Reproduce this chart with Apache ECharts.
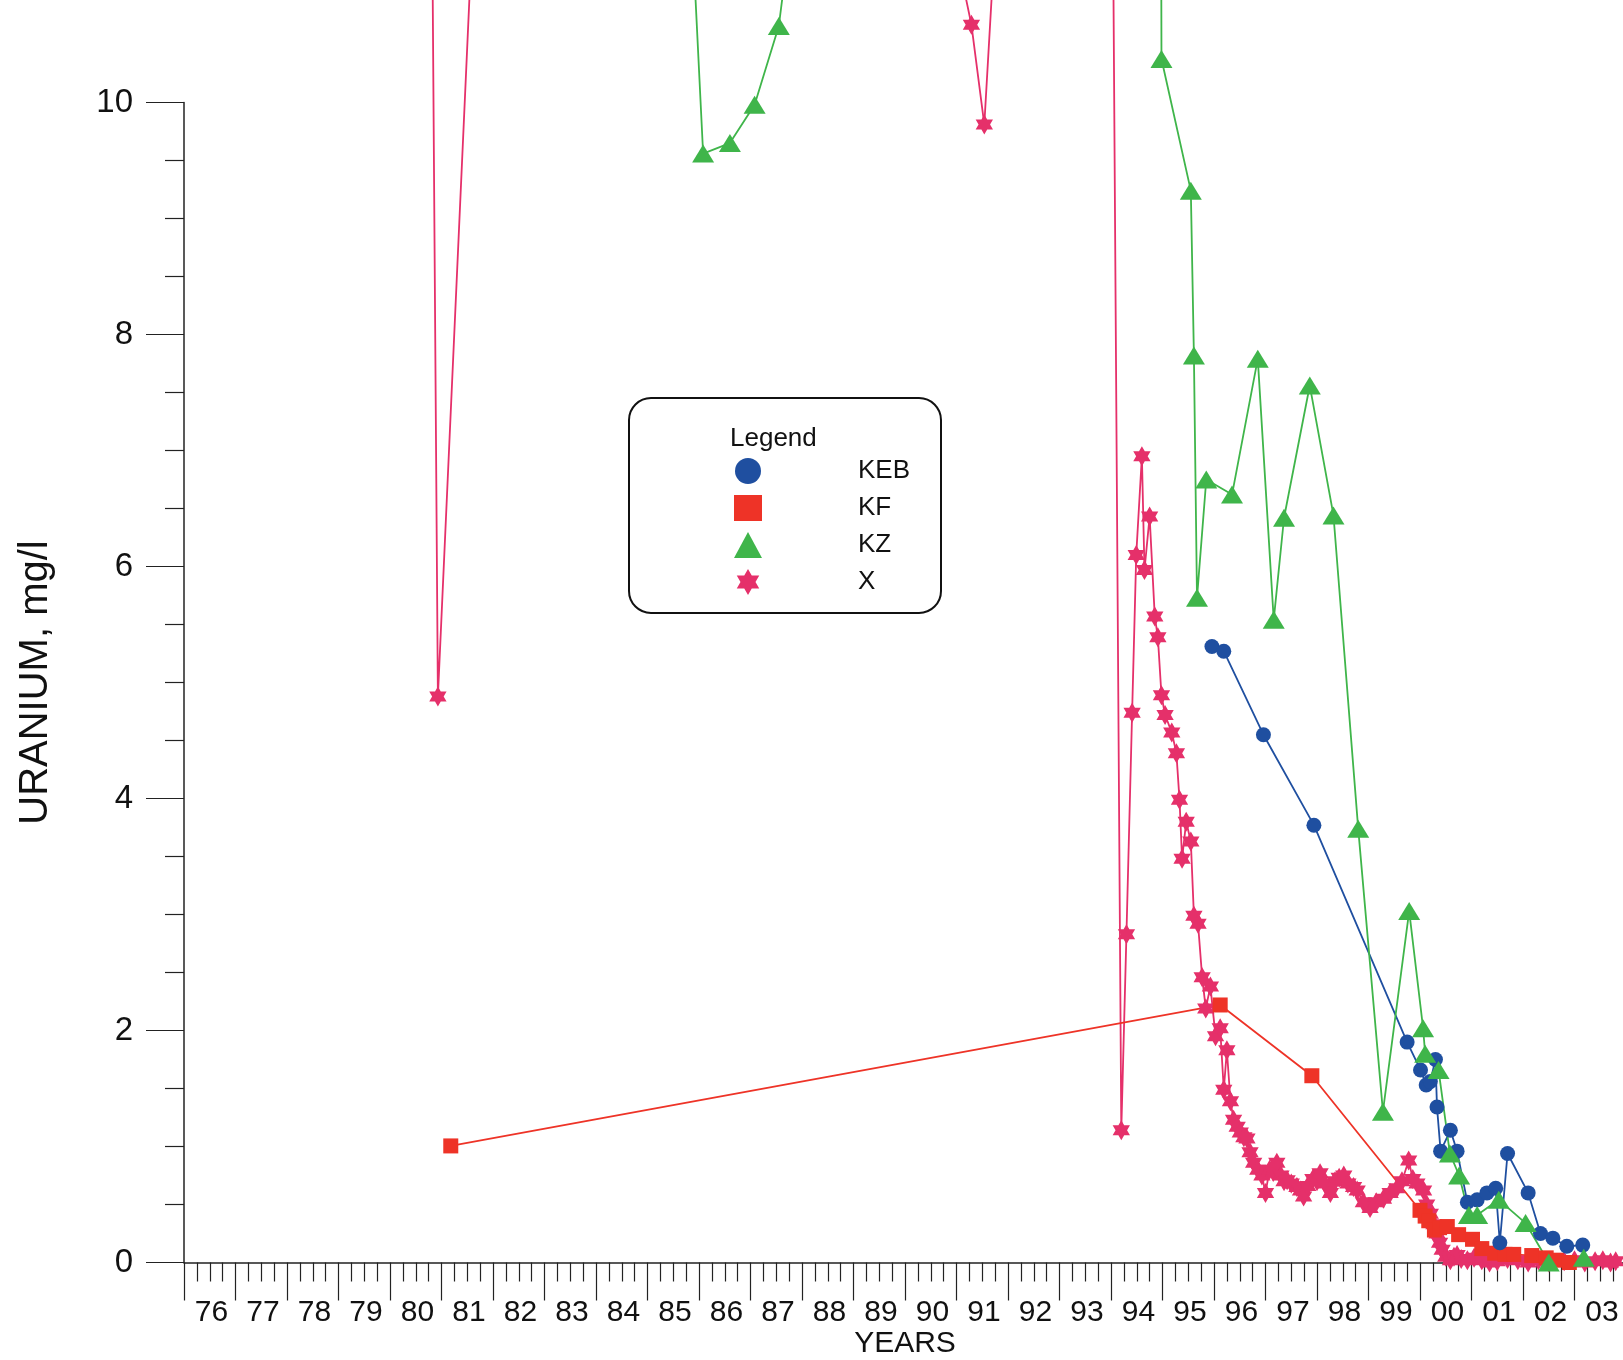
<!DOCTYPE html>
<html>
<head>
<meta charset="utf-8">
<script src="https://cdn.jsdelivr.net/npm/echarts@6/dist/echarts.min.js"></script>
<style>
html,body{margin:0;padding:0;background:#fff;}
#chart{width:1623px;height:1360px;}
</style>
</head>
<body>
<div id="chart"></div>
<script>
// ---- data (decimal year, uranium mg/l) ----
const kebYears = [1995.96, 1996.19, 1996.96, 1997.94, 1999.75, 2000.01, 2000.12, 2000.20, 2000.30, 2000.33, 2000.40, 2000.59, 2000.72, 2000.92, 2001.11, 2001.30, 2001.47, 2001.55, 2001.70, 2002.10, 2002.34, 2002.58, 2002.85, 2003.16];
const kebValues = [5.31, 5.27, 4.55, 3.77, 1.90, 1.66, 1.53, 1.56, 1.75, 1.34, 0.96, 1.14, 0.96, 0.52, 0.54, 0.60, 0.64, 0.17, 0.94, 0.60, 0.25, 0.21, 0.14, 0.15];

const kfYears = [1981.18, 1996.12, 1997.90, 2000.00, 2000.10, 2000.17, 2000.28, 2000.38, 2000.53, 2000.75, 2001.02, 2001.20, 2001.45, 2001.65, 2001.82, 2002.17, 2002.45, 2002.65, 2002.90];
const kfValues = [1.005, 2.22, 1.61, 0.45, 0.40, 0.36, 0.28, 0.30, 0.31, 0.24, 0.20, 0.12, 0.08, 0.07, 0.07, 0.06, 0.04, 0.02, 0.0];

const kzYears = [1985.5, 1986.08, 1986.60, 1987.08, 1987.55, 1988.5, 1991.0, 1993.0, 1994.9, 1994.98, 1995.55, 1995.61, 1995.67, 1995.85, 1996.35, 1996.85, 1997.16, 1997.36, 1997.86, 1998.32, 1998.80, 1999.28, 1999.79, 2000.06, 2000.10, 2000.36, 2000.58, 2000.76, 2000.95, 2001.11, 2001.53, 2002.05, 2002.50, 2003.18];
const kzValues = [14.8, 9.56, 9.65, 9.98, 10.66, 14, 17, 15, 25, 10.375, 9.24, 7.82, 5.73, 6.75, 6.62, 7.79, 5.54, 6.42, 7.56, 6.44, 3.74, 1.30, 3.03, 2.02, 1.80, 1.66, 0.94, 0.75, 0.41, 0.41, 0.54, 0.34, 0.0, 0.04];

const xYears = [1980.60, 1980.93, 1982.00, 1985.00, 1988.50, 1990.90, 1991.29, 1991.54, 1992.00, 1993.20,
  1993.90, 1994.20, 1994.30, 1994.41, 1994.49, 1994.60, 1994.65, 1994.75, 1994.85, 1994.91,
  1994.98, 1995.05, 1995.18, 1995.27, 1995.33, 1995.38, 1995.46, 1995.55, 1995.61, 1995.69,
  1995.77, 1995.84, 1995.93, 1996.03, 1996.12, 1996.19, 1996.25, 1996.32, 1996.38, 1996.45,
  1996.51, 1996.58, 1996.64, 1996.70, 1996.77, 1996.85, 1996.93, 1997.00, 1997.08, 1997.15,
  1997.22, 1997.30, 1997.36, 1997.42, 1997.50, 1997.61, 1997.68, 1997.74, 1997.82, 1997.92,
  1998.00, 1998.06, 1998.15, 1998.26, 1998.35, 1998.43, 1998.52, 1998.60, 1998.71, 1998.78,
  1998.90, 1999.03, 1999.15, 1999.29, 1999.42, 1999.55, 1999.65, 1999.78, 1999.86, 1999.94,
  2000.07, 2000.13, 2000.20, 2000.27, 2000.33, 2000.38, 2000.43, 2000.50, 2000.59, 2000.66,
  2000.72, 2000.80, 2000.92, 2001.05, 2001.20, 2001.35, 2001.50, 2001.70, 2001.90, 2002.10,
  2002.30, 2002.50, 2002.80, 2003.00, 2003.20, 2003.40, 2003.55, 2003.70, 2003.80];
const xValues = [24.7, 4.88, 15.4, 18, 15, 11.5, 10.67, 9.81, 13.35, 16,
  20.5, 1.14, 2.83, 4.74, 6.10, 6.95, 5.97, 6.43, 5.57, 5.39,
  4.89, 4.72, 4.57, 4.39, 3.99, 3.48, 3.80, 3.63, 2.99, 2.92,
  2.46, 2.19, 2.38, 1.95, 2.02, 1.49, 1.83, 1.39, 1.23, 1.17,
  1.12, 1.08, 1.07, 0.95, 0.86, 0.80, 0.75, 0.60, 0.80, 0.78,
  0.86, 0.75, 0.70, 0.71, 0.68, 0.65, 0.62, 0.57, 0.66, 0.72,
  0.70, 0.77, 0.68, 0.60, 0.70, 0.73, 0.75, 0.68, 0.65, 0.62,
  0.52, 0.47, 0.52, 0.55, 0.60, 0.64, 0.70, 0.88, 0.72, 0.68,
  0.62, 0.50, 0.42, 0.33, 0.25, 0.17, 0.11, 0.05, 0.02, 0.05,
  0.065, 0.03, 0.02, 0.04, 0.02, 0.0, 0.01, 0.03, 0.02, 0.0,
  0.02, 0.0, 0.01, 0.02, 0.0, 0.01, 0.02, 0.0, 0.01];

const seriesNames = ['KEB', 'KF', 'KZ', 'X'];
const yTickValues = [0, 2, 4, 6, 8, 10];
const yearRange = [1976, 2004];

// ---- styling ----
const COL = {KEB: '#1f4fa0', KF: '#ee3327', KZ: '#3fb54a', X: '#e5306a'};
const STAR = 'path://M100 0 L128.87 50 L186.6 50 L157.7 100 L186.6 150 L128.87 150 L100 200 L71.13 150 L13.4 150 L42.3 100 L13.4 50 L71.13 50 Z';
const SANS = '"Liberation Sans", Arial, sans-serif';

function pairs(xs, ys) { return xs.map((x, i) => [x, ys[i]]); }

function makeSeries(name, xs, ys, symbol, size) {
  return {
    name: name, type: 'line', data: pairs(xs, ys),
    clip: false, symbol: symbol, symbolSize: size, symbolKeepAspect: true,
    showAllSymbol: true,
    lineStyle: {color: COL[name], width: 1.8},
    itemStyle: {color: COL[name]},
    emphasis: {disabled: true}, animation: false
  };
}

const chart = echarts.init(document.getElementById('chart'), null, {renderer: 'canvas'});
const option = {
  animation: false,
  backgroundColor: '#fff',
  grid: {left: 184, top: 102.5, width: 1442, height: 1160, outerBoundsMode: 'none', containLabel: false},
  xAxis: {
    type: 'value', min: yearRange[0], max: yearRange[1], interval: 1,
    name: 'YEARS', nameLocation: 'middle', nameGap: 66, nameMoveOverlap: false,
    nameTextStyle: {fontFamily: SANS, fontSize: 30, color: '#111'},
    axisLine: {show: true, onZero: false, lineStyle: {color: '#222', width: 1.5}},
    axisTick: {show: true, length: 38, lineStyle: {color: '#222', width: 1.2}},
    minorTick: {show: true, splitNumber: 4, length: 19, lineStyle: {color: '#222', width: 1.2}},
    splitLine: {show: false}, minorSplitLine: {show: false},
    axisLabel: {
      fontFamily: SANS, fontSize: 30, color: '#111', margin: 35,
      align: 'center', padding: [0, 0, 0, 55],
      formatter: v => String(Math.round(v) % 100).padStart(2, '0')
    }
  },
  yAxis: {
    type: 'value', min: 0, max: 10, interval: 2,
    name: 'URANIUM, mg/l', nameLocation: 'middle', nameRotate: 90, nameGap: 128, nameMoveOverlap: false,
    nameTextStyle: {fontFamily: SANS, fontSize: 40, color: '#111'},
    axisLine: {show: true, lineStyle: {color: '#222', width: 1.5}},
    axisTick: {show: true, length: 38, lineStyle: {color: '#222', width: 1.2}},
    minorTick: {show: true, splitNumber: 4, length: 19, lineStyle: {color: '#222', width: 1.2}},
    splitLine: {show: false}, minorSplitLine: {show: false},
    axisLabel: {
      fontFamily: SANS, fontSize: 33, color: '#111', margin: 51,
      formatter: v => (yTickValues.indexOf(v) >= 0 ? String(v) : '')
    }
  },
  legend: {
    orient: 'vertical', left: 729, top: 453,
    itemWidth: 28, itemHeight: 26, itemGap: 11,
    textStyle: {fontFamily: SANS, fontSize: 26, color: '#111', padding: [0, 0, 0, 91]},
    selectedMode: false,
    data: [
      {name: 'KEB', icon: 'circle'},
      {name: 'KF', icon: 'rect'},
      {name: 'KZ', icon: 'triangle'},
      {name: 'X', icon: STAR}
    ]
  },
  graphic: [
    {type: 'rect', left: 628, top: 397, z: -1,
     shape: {width: 312, height: 215, r: 22},
     style: {fill: '#fff', stroke: '#111', lineWidth: 2}},
    {type: 'text', left: 730, top: 426,
     style: {text: 'Legend', font: '26px ' + SANS, fill: '#111'}}
  ],
  series: [
    makeSeries('X', xYears, xValues, STAR, 20),
    makeSeries('KF', kfYears, kfValues, 'rect', 15),
    makeSeries('KEB', kebYears, kebValues, 'circle', 15),
    makeSeries('KZ', kzYears, kzValues, 'triangle', [22, 18])
  ]
};
chart.setOption(option);
</script>
</body>
</html>
